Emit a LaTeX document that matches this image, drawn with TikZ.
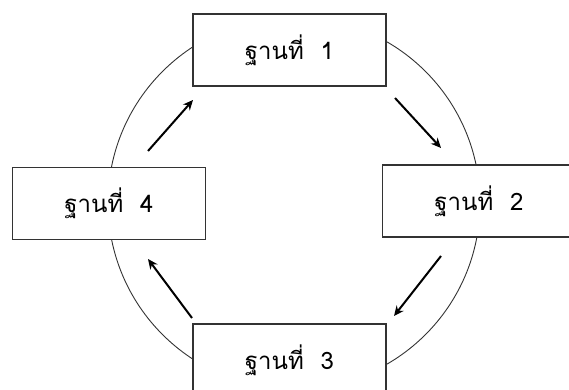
\documentclass[tikz,border=0pt]{standalone}
\usepackage{fontspec}
\usetikzlibrary{arrows.meta}
\newfontfamily\thaifont[Script=Thai]{Loma}
\begin{document}
\begin{tikzpicture}[x=1pt,y=1pt,
  station/.style={draw=black!80, line width=1.5pt, fill=white,
    minimum width=193pt, minimum height=72pt, inner sep=0pt,
    font=\thaifont\fontsize{24}{28}\selectfont},
  flow/.style={line width=2pt, -{Stealth[length=10pt,width=9pt]}}]
\useasboundingbox (0,0) rectangle (569,389);
\clip (0,0) rectangle (569,389);
% ring linking the four stations
\coordinate (c) at (294,186);
\draw[line width=0.9pt, black!80] (c) circle (186);
% stations
\node[station] (s1) at (289.5,339) {ฐานที่\hspace{0.7em}1};
\node[station] (s2) at (479,188) {ฐานที่\hspace{0.7em}2};
\node[station] (s3) at (289.5,29) {ฐานที่\hspace{0.7em}3};
\node[station] (s4) at (109,185.5) {ฐานที่\hspace{0.7em}4};
% arrows showing the direction of rotation
\coordinate (a1s) at (148,238); \coordinate (a1e) at (193,289);
\coordinate (a2s) at (395,291); \coordinate (a2e) at (441,241);
\coordinate (a3s) at (441,133); \coordinate (a3e) at (394,73);
\coordinate (a4s) at (192,71);  \coordinate (a4e) at (148,130);
\draw[flow] (a1s) -- (a1e);
\draw[flow] (a2s) -- (a2e);
\draw[flow] (a3s) -- (a3e);
\draw[flow] (a4s) -- (a4e);
\end{tikzpicture}
\end{document}
